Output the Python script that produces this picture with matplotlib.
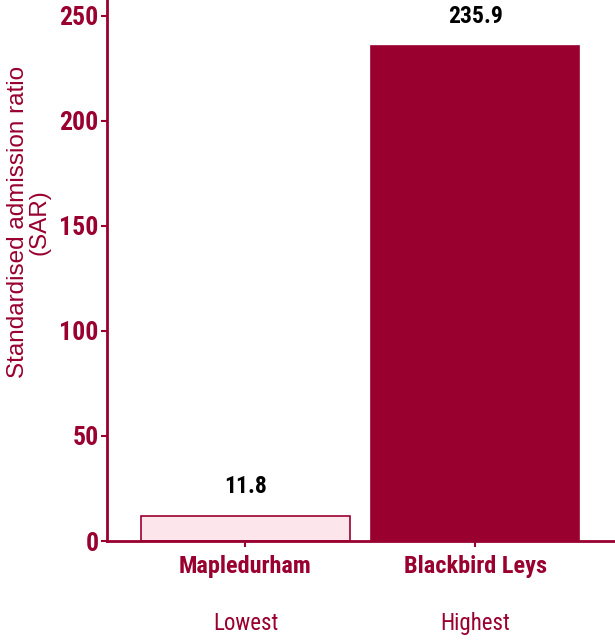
import matplotlib.pyplot as plt
from matplotlib import font_manager
from matplotlib.transforms import blended_transform_factory

# wards with the lowest and highest SAR
wards = ["Mapledurham", "Blackbird Leys"]
ranks = ["Lowest", "Highest"]
sar = [11.8, 235.9]
yticks = [0, 50, 100, 150, 200, 250]

CRIMSON = "#99002f"
PINK = "#fce6ec"

names = {f.name for f in font_manager.fontManager.ttflist}
narrow = next((n for n in ["Roboto Condensed", "PT Sans Narrow", "Archivo Narrow",
                           "Open Sans Condensed", "Liberation Sans"] if n in names))

fig = plt.figure(figsize=(6.15, 6.41), dpi=100)
ax = fig.add_axes([0.174, 0.156, 0.826, 0.844])

x = list(range(len(wards)))
ax.bar(x[0], sar[0], width=0.905, color=PINK, edgecolor=CRIMSON, linewidth=1.2)
ax.bar(x[1], sar[1], width=0.905, color=CRIMSON, edgecolor=CRIMSON, linewidth=1.2)

for xi, v in zip(x, sar):
    ax.annotate(f"{v:.1f}", (xi, v), xytext=(0, 13), textcoords="offset points",
                ha="center", va="bottom", fontsize=17, fontweight="bold",
                family=narrow, color="black")

ax.set_xlim(-0.602, 1.607)
ax.set_ylim(0, 257.6)
ax.set_yticks(yticks)
ax.set_xticks(x)
ax.set_xticklabels(wards, fontsize=17.5, fontweight="bold", family=narrow, color=CRIMSON)
ax.set_yticklabels([str(t) for t in yticks], fontsize=18.5, fontweight="bold",
                   family=narrow, color=CRIMSON)
ax.tick_params(axis="both", colors=CRIMSON, length=4, width=1.5)
ax.tick_params(axis="x", pad=6)
ax.tick_params(axis="y", pad=2)

trans = blended_transform_factory(ax.transData, ax.transAxes)
for xi, r in zip(x, ranks):
    ax.text(xi, -0.152, r, transform=trans, ha="center", va="center",
            fontsize=16.5, family=narrow, color=CRIMSON)

for side in ["top", "right"]:
    ax.spines[side].set_visible(False)
for side in ["left", "bottom"]:
    ax.spines[side].set_color(CRIMSON)
    ax.spines[side].set_linewidth(2)

ax.set_ylabel("Standardised admission ratio\n(SAR)", fontsize=17.5,
              family="Liberation Sans", color=CRIMSON, linespacing=0.95)
ax.yaxis.set_label_coords(-0.112, 0.59)

fig.savefig("out.png", dpi=100)
